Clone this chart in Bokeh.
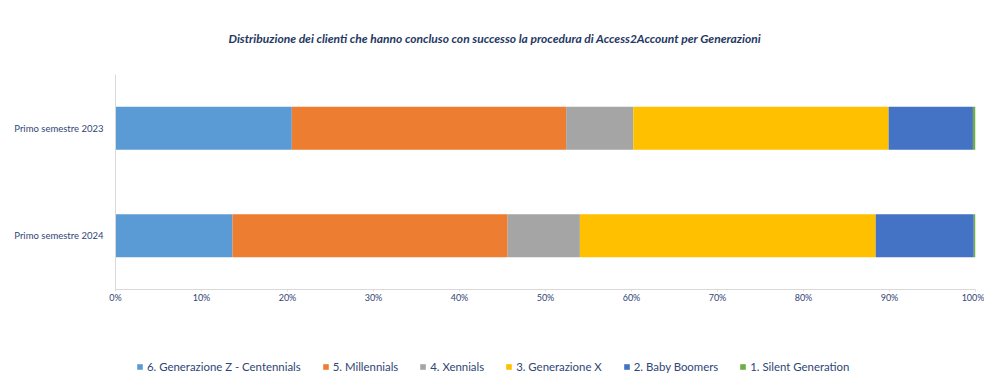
from bokeh.plotting import figure
from bokeh.layouts import column
from bokeh.models import (ColumnDataSource, FactorRange, Range1d, Legend, LegendItem,
                          NumeralTickFormatter, FixedTicker)
from bokeh.embed import file_html
from bokeh.resources import INLINE

# ---- data ----
periods = ["Primo semestre 2024", "Primo semestre 2023"]  # bottom -> top
generations = ["6. Generazione Z - Centennials", "5. Millennials", "4. Xennials",
               "3. Generazione X", "2. Baby Boomers", "1. Silent Generation"]
gen_z = [13.6, 20.5]
millennials = [32.0, 31.9]
xennials = [8.4, 7.8]
gen_x = [34.4, 29.7]
boomers = [11.4, 9.8]
silent = [0.2, 0.3]
x_ticks = [0, 10, 20, 30, 40, 50, 60, 70, 80, 90, 100]

colors = ["#5B9BD5", "#ED7D31", "#A5A5A5", "#FFC000", "#4472C4", "#70AD47"]
series = [gen_z, millennials, xennials, gen_x, boomers, silent]

FONT = "Lato"
TXT = "#2F4676"

data = {"period": periods}
keys = []
for i, s in enumerate(series):
    k = "s%d" % i
    data[k] = [v / 100.0 for v in s]
    keys.append(k)
src = ColumnDataSource(data)

# ---- main chart ----
p = figure(width=984, height=340,
           y_range=FactorRange(factors=periods, range_padding=0),
           x_range=Range1d(0, 1), output_backend="svg", toolbar_location=None,
           min_border_left=115, min_border_right=9, min_border_top=73, min_border_bottom=51)

p.title.text = "Distribuzione dei clienti che hanno concluso con successo la procedura di Access2Account per Generazioni"
p.title.align = "left"
p.title.offset = 113
p.title.text_font = FONT
p.title.text_font_style = "bold italic"
p.title.text_font_size = "12px"
p.title.text_color = "#1F3864"
p.title.standoff = 57

p.hbar_stack(keys, y="period", height=0.4, color=colors, source=src, line_alpha=0.0)

p.xaxis.ticker = FixedTicker(ticks=[t / 100.0 for t in x_ticks])
p.xaxis.formatter = NumeralTickFormatter(format="0%")
p.xaxis.axis_line_color = "#D9D9D9"
p.xaxis.major_tick_line_color = "#D9D9D9"
p.xaxis.major_tick_out = 2
p.xaxis.major_tick_in = 0
p.xaxis.minor_tick_line_color = None
p.xaxis.major_label_text_font = FONT
p.xaxis.major_label_text_font_size = "9px"
p.xaxis.major_label_text_color = TXT
p.xaxis.major_label_standoff = 0

p.yaxis.axis_line_color = "#D9D9D9"
p.yaxis.major_tick_line_color = None
p.yaxis.minor_tick_line_color = None
p.yaxis.major_label_text_font = FONT
p.yaxis.major_label_text_font_size = "9.5px"
p.yaxis.major_label_text_color = TXT
p.yaxis.major_label_standoff = 6

p.xgrid.grid_line_color = None
p.ygrid.grid_line_color = None
p.outline_line_color = None

# ---- legend strip (same series; its bars have no height and lie outside its range) ----
pl = figure(width=984, height=45, y_range=FactorRange(factors=periods),
            x_range=Range1d(5, 6), output_backend="svg", toolbar_location=None,
            min_border=0)
leg_renderers = pl.hbar_stack(keys, y="period", height=0.0, color=colors, source=src,
                              line_alpha=0.0)
pl.axis.visible = False
pl.grid.visible = False
pl.outline_line_color = None
pl.title.visible = False

items = [LegendItem(label=g, renderers=[r]) for g, r in zip(generations, leg_renderers)]
legend = Legend(items=items, orientation="horizontal", location=(21, 12),
                glyph_width=7, glyph_height=7, label_standoff=4, spacing=21,
                label_height=14, label_text_font=FONT, label_text_font_size="11.4px",
                label_text_color=TXT, border_line_alpha=0, background_fill_alpha=0,
                padding=0, margin=0)
pl.add_layout(legend)

layout = column(p, pl, spacing=0)
open("out.html", "w").write(file_html(layout, INLINE))
